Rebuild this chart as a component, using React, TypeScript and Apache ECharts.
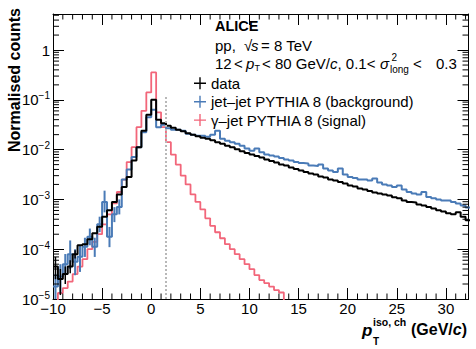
import React, { useEffect, useRef } from 'react';
import * as echarts from 'echarts';

const FONT = "'Liberation Sans', Arial, Helvetica, sans-serif";

const X_MIN = -10;
const X_MAX = 32.3;
const Y_MIN = 1e-5;
const Y_MAX = 5.3;
const ISO_CUT = 1.5;
const ISO_CUT_TOP = 0.125;

// histogram bin edges (GeV/c)
const binEdges = [
  -10, -9.5, -9, -8.5, -8, -7.5, -7, -6.5, -6, -5.5, -5, -4.5, -4, -3.5, -3, -2.5, -2, -1.5, -1, -0.5,
  0, 0.5, 1, 1.5, 2, 2.5, 3, 3.5, 4, 4.5, 5, 5.5, 6, 6.5, 7, 7.5, 8, 8.5, 9, 9.5,
  10, 10.5, 11, 11.5, 12, 12.5, 13, 13.5, 14, 14.5, 15, 15.5, 16, 16.5, 17, 17.5, 18, 18.5, 19, 19.5,
  20, 20.5, 21, 21.5, 22, 22.5, 23, 23.5, 24, 24.5, 25, 25.5, 26, 26.5, 27, 27.5, 28, 28.5, 29, 29.5,
  30, 30.5, 31, 31.5, 32, 32.5,
];

// γ–jet PYTHIA 8 (signal)
const signalValues = [
  0.000006, 0.0000132, 0.0000166, 0.0000224, 0.0000316, 0.0000447, 0.0000631, 0.0001, 0.000141, 0.0002,
  0.000316, 0.000501, 0.000832, 0.00141, 0.00251, 0.00562, 0.0112, 0.0282, 0.0603, 0.141,
  0.355, 0.0562, 0.0282, 0.0141, 0.00794, 0.00501, 0.00302, 0.002, 0.00126, 0.000891,
  0.000631, 0.000417, 0.000295, 0.000219, 0.000166, 0.000126, 0.0001, 0.0000794, 0.0000631, 0.0000501,
  0.0000398, 0.0000302, 0.000024, 0.0000209, 0.0000178, 0.0000151, 0.0000135, 0.000006,
];

// data
const dataValues = [
  0.0000447, 0.0000251, 0.0000316, 0.0000447, 0.0000794, 0.00012, 0.000126, 0.000158, 0.000209, 0.000282,
  0.000447, 0.000603, 0.000891, 0.00126, 0.00178, 0.00282, 0.00603, 0.0112, 0.024, 0.0501,
  0.1, 0.0398, 0.0339, 0.0302, 0.0275, 0.0251, 0.0234, 0.0214, 0.02, 0.0186,
  0.0174, 0.0166, 0.0155, 0.0141, 0.0132, 0.012, 0.0112, 0.0102, 0.00933, 0.00851,
  0.00794, 0.00741, 0.00692, 0.00631, 0.00589, 0.0055, 0.00501, 0.00479, 0.00437, 0.00407,
  0.0038, 0.00355, 0.00331, 0.00316, 0.00288, 0.00275, 0.00251, 0.0024, 0.00224, 0.00209,
  0.00191, 0.00182, 0.00166, 0.00158, 0.00148, 0.00138, 0.00132, 0.00126, 0.0012, 0.0011,
  0.00105, 0.000955, 0.000891, 0.000871, 0.000794, 0.000759, 0.000708, 0.000661, 0.000603, 0.000575,
  0.000525, 0.000501, 0.00055, 0.000447, 0.00038,
];

// jet–jet PYTHIA 8 (background)
const backgroundValues = [
  0.0000178, 0.0000282, 0.0000501, 0.0000794, 0.0000562, 0.0000708, 0.000112, 0.000178, 0.000112, 0.000316,
  0.000891, 0.000178, 0.000501, 0.000708, 0.00251, 0.00398, 0.00708, 0.0112, 0.0224, 0.0447,
  0.0631, 0.0282, 0.0316, 0.0269, 0.0251, 0.0251, 0.024, 0.0209, 0.02, 0.0191,
  0.0191, 0.0182, 0.02, 0.024, 0.0166, 0.0151, 0.0141, 0.0132, 0.012, 0.0105,
  0.00955, 0.0105, 0.00891, 0.00794, 0.00759, 0.00724, 0.00676, 0.00631, 0.00603, 0.00562,
  0.00537, 0.00525, 0.00479, 0.00468, 0.00501, 0.00417, 0.0038, 0.00355, 0.00417, 0.00316,
  0.00282, 0.00269, 0.00251, 0.00251, 0.0024, 0.00263, 0.00219, 0.002, 0.00191, 0.00178,
  0.00191, 0.00158, 0.00141, 0.00132, 0.00126, 0.00141, 0.00112, 0.00105, 0.001, 0.000955,
  0.000955, 0.000891, 0.000832, 0.000759, 0.000692,
];

// statistical uncertainties (low, high) for the first bins
const backgroundErrLow = [0.000006, 0.000013, 0.00003, 0.00004, 0.00003, 0.000035, 0.00007, 0.00012, 0.00007, 0.00022, 0.00055, 0.00011, 0.00035, 0.0005];
const backgroundErrHigh = [0.000032, 0.00005, 0.00008, 0.00015, 0.0001, 0.00012, 0.00017, 0.00026, 0.00017, 0.00045, 0.0015, 0.00028, 0.0007, 0.001];
const dataErrLow = [0.000025, 0.000012, 0.00002, 0.000033, 0.000065];
const dataErrHigh = [0.00007, 0.00004, 0.000045, 0.00006, 0.000095];

const yDecades = [1e-5, 1e-4, 1e-3, 1e-2, 1e-1, 1];
const yMantissas = [2, 3, 4, 5, 6, 7, 8, 9];
const xMinorStep = [-9, -8, -7, -6, -4, -3, -2, -1, 1, 2, 3, 4, 6, 7, 8, 9, 11, 12, 13, 14, 16, 17, 18, 19, 21, 22, 23, 24, 26, 27, 28, 29, 31, 32];

const legendNames = ['data', 'jet\u2013jet PYTHIA 8 (background)', '\u03b3\u2013jet PYTHIA 8 (signal)'];

const BLACK = '#000000';
const BLUE = '#4a7bb7';
const RED = '#f2667a';

export default function App() {
  const ref = useRef<HTMLDivElement>(null);

  useEffect(() => {
    if (!ref.current) return;
    const chart = echarts.init(ref.current, null, { renderer: 'svg' });

    const hist = (vals: number[]) => {
      const d: number[][] = vals.map((v, i) => [binEdges[i], v]);
      d.push([binEdges[vals.length], vals[vals.length - 1]]);
      return d;
    };
    const errData = (lo: number[], hi: number[]) =>
      lo.map((l, i) => [(binEdges[i] + binEdges[i + 1]) / 2, l, hi[i]]);

    const yMinorTicks: number[] = [];
    yDecades.forEach((d) => yMantissas.forEach((m) => { if (m * d < Y_MAX) yMinorTicks.push(m * d); }));

    const plusIcon = 'path://M0,5.3H12V6.7H0Z M5.3,0H6.7V12H5.3Z';

    const errRender = (color: string, w: number) => (params: any, api: any) => {
      const p1 = api.coord([api.value(0), api.value(1)]);
      const p2 = api.coord([api.value(0), api.value(2)]);
      return {
        type: 'line',
        shape: { x1: p1[0], y1: p1[1], x2: p2[0], y2: p2[1] },
        style: { stroke: color, lineWidth: w },
      };
    };

    const txt = (x: number, y: number, text: string, font: string, extra: any = {}) => ({
      type: 'text',
      x,
      y,
      silent: true,
      style: { text, font, fill: '#000', textAlign: 'left', textVerticalAlign: 'middle', ...extra },
    });

    const F = (size: number, style = '') => `${style} ${size}px ${FONT}`.trim();

    const axisLine = { show: true, onZero: false, lineStyle: { color: '#000', width: 1 } };
    const axisTick = { show: true, inside: true, length: 11, lineStyle: { color: '#000', width: 1 } };

    chart.setOption({
      animation: false,
      backgroundColor: '#ffffff',
      grid: { left: 53, right: 7.5, top: 14, bottom: 50, containLabel: false },
      xAxis: [
        {
          type: 'value', min: X_MIN, max: X_MAX, interval: 5, position: 'bottom',
          axisLine, axisTick,
          axisLabel: {
            show: true, showMaxLabel: false, margin: 2, color: '#000', fontSize: 15, fontFamily: FONT,
            lineHeight: 14,
            formatter: (v: number) => String(v).replace('-', '\u2212'),
          },
          splitLine: { show: false },
        },
        {
          type: 'value', min: X_MIN, max: X_MAX, interval: 5, position: 'top',
          axisLine, axisTick, axisLabel: { show: false }, splitLine: { show: false },
        },
      ],
      yAxis: [
        {
          type: 'log', logBase: 10, min: Y_MIN, max: Y_MAX, position: 'left',
          axisLine, axisTick,
          axisLabel: {
            show: true, showMaxLabel: false, margin: 3, color: '#000', fontSize: 15, fontFamily: FONT,
            lineHeight: 18,
            formatter: (v: number) => {
              const e = Math.round(Math.log10(v));
              return e === 0 ? '1' : `10{s|\u2212${-e}}`;
            },
            rich: { s: { fontSize: 10, fontFamily: FONT, color: '#000', verticalAlign: 'top', lineHeight: 12 } },
          },
          splitLine: { show: false },
        },
        {
          type: 'log', logBase: 10, min: Y_MIN, max: Y_MAX, position: 'right',
          axisLine, axisTick, axisLabel: { show: false }, splitLine: { show: false },
        },
      ],
      legend: {
        left: 194, top: 75.8, orient: 'vertical', itemWidth: 12, itemHeight: 12, itemGap: 3.4,
        padding: 0,
        selectedMode: false,
        textStyle: { fontSize: 15, fontFamily: FONT, color: '#000', lineHeight: 15 },
        data: [
          { name: legendNames[0], icon: plusIcon, itemStyle: { color: BLACK, borderWidth: 0 } },
          { name: legendNames[1], icon: plusIcon, itemStyle: { color: BLUE, borderWidth: 0 } },
          { name: legendNames[2], icon: plusIcon, itemStyle: { color: RED, borderWidth: 0 } },
        ],
      },
      series: [
        {
          name: legendNames[2], type: 'line', step: 'end', symbol: 'none', clip: true,
          data: hist(signalValues),
          itemStyle: { color: RED }, lineStyle: { color: RED, width: 1.8 }, z: 2,
          markLine: {
            silent: true, symbol: 'none', label: { show: false },
            lineStyle: { color: '#b8b8b8', type: [2, 2], width: 2 },
            data: [[{ coord: [ISO_CUT, Y_MIN] }, { coord: [ISO_CUT, ISO_CUT_TOP] }]],
          },
        },
        {
          name: legendNames[1], type: 'line', step: 'end', symbol: 'none', clip: true,
          data: hist(backgroundValues),
          itemStyle: { color: BLUE }, lineStyle: { color: BLUE, width: 2 }, z: 3,
        },
        {
          name: 'bgErr', type: 'custom', clip: true, z: 3, silent: true,
          data: errData(backgroundErrLow, backgroundErrHigh),
          renderItem: errRender(BLUE, 2),
        },
        {
          name: legendNames[0], type: 'line', step: 'end', symbol: 'none', clip: true,
          data: hist(dataValues),
          itemStyle: { color: BLACK }, lineStyle: { color: BLACK, width: 2 }, z: 4,
        },
        {
          name: 'dataErr', type: 'custom', clip: true, z: 4, silent: true,
          data: errData(dataErrLow, dataErrHigh),
          renderItem: errRender(BLACK, 1.5),
        },
        {
          name: 'yMinor', type: 'custom', silent: true, z: 5,
          data: yMinorTicks.map((v) => [X_MIN, v]),
          renderItem: (params: any, api: any) => {
            const y = api.coord([X_MIN, api.value(1)])[1];
            const cs = params.coordSys;
            const st = { stroke: '#000', lineWidth: 1 };
            return {
              type: 'group',
              children: [
                { type: 'line', shape: { x1: cs.x, y1: y, x2: cs.x + 6, y2: y }, style: st },
                { type: 'line', shape: { x1: cs.x + cs.width - 6, y1: y, x2: cs.x + cs.width, y2: y }, style: st },
              ],
            };
          },
        },
        {
          name: 'xMinor', type: 'custom', silent: true, z: 5,
          data: xMinorStep.map((v) => [v, Y_MIN]),
          renderItem: (params: any, api: any) => {
            const x = api.coord([api.value(0), Y_MIN])[0];
            const cs = params.coordSys;
            const st = { stroke: '#000', lineWidth: 1 };
            return {
              type: 'group',
              children: [
                { type: 'line', shape: { x1: x, y1: cs.y + cs.height, x2: x, y2: cs.y + cs.height - 5.5 }, style: st },
                { type: 'line', shape: { x1: x, y1: cs.y, x2: x, y2: cs.y + 5.5 }, style: st },
              ],
            };
          },
        },
      ],
      graphic: [
        txt(215, 26, 'ALICE', F(14.5, 'bold')),
        txt(215, 45, 'pp,', F(15)),
        txt(244, 45, '\u221a', F(15)),
        txt(251, 45, 's', F(15, 'italic')),
        txt(261, 45, '= 8 TeV', F(15)),
        txt(215, 63, '12', F(15)),
        txt(234, 63, '<', F(15)),
        txt(246, 63, 'p', F(15, 'italic')),
        txt(254.5, 68, 'T', F(9)),
        txt(262, 63, '{n|< 80 GeV/}{i|c}{n|, 0.1<}', F(15), {
          rich: { n: { font: F(15), fill: '#000' }, i: { font: F(15, 'italic'), fill: '#000' } },
        }),
        txt(380, 63, '\u03c3', F(15, 'italic')),
        txt(391.5, 57, '2', F(10)),
        txt(390, 69, 'long', F(10)),
        txt(413, 63, '<', F(15)),
        txt(436, 63, '0.3', F(15)),
        {
          type: 'text', x: 14, y: 80, rotation: Math.PI / 2, silent: true,
          style: { text: 'Normalised counts', font: F(16, 'bold'), fill: '#000', textAlign: 'center', textVerticalAlign: 'middle' },
        },
        txt(362, 330, 'p', F(17, 'italic bold')),
        txt(373, 321.5, 'iso, ch', F(10.5, 'bold')),
        txt(373, 341, 'T', F(10, 'bold')),
        txt(411, 329, '{a|(GeV/}{b|c}{a|)}', F(16, 'bold'), {
          rich: { a: { font: F(16, 'bold'), fill: '#000' }, b: { font: F(16, 'italic bold'), fill: '#000' } },
        }),
      ],
    });

    return () => chart.dispose();
  }, []);

  return <div ref={ref} style={{ position: 'fixed', left: 0, top: 0, width: 476, height: 349 }} />;
}
